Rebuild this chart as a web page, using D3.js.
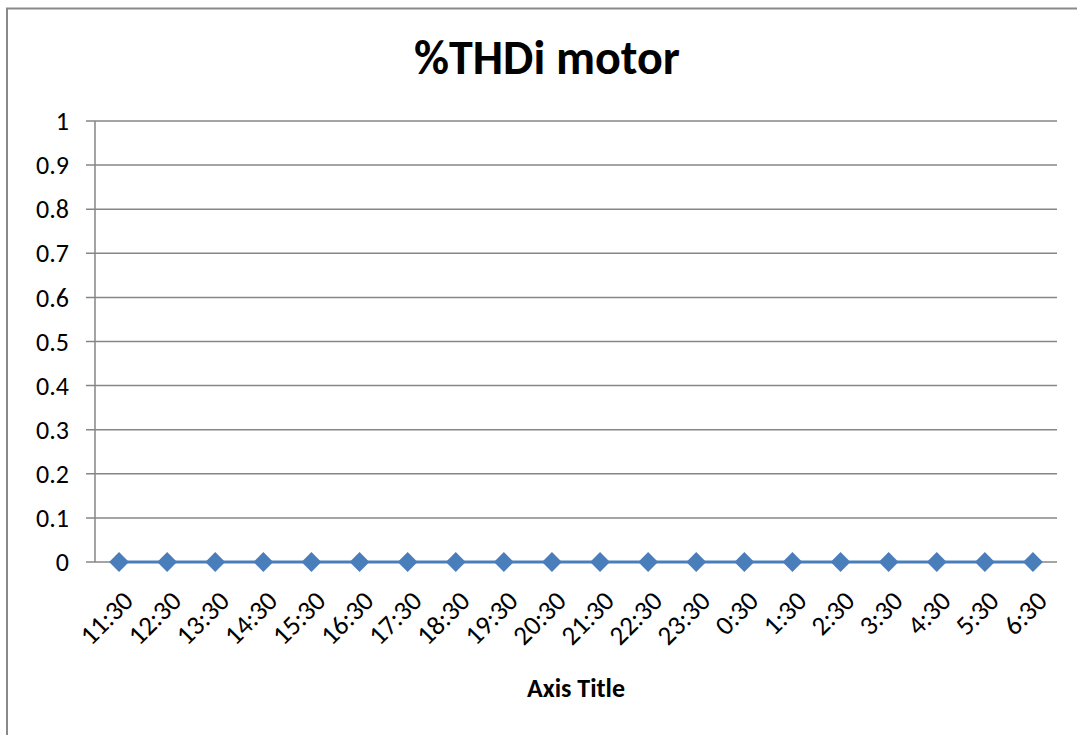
<!DOCTYPE html>
<html><head><meta charset="utf-8">
<script src="https://cdn.jsdelivr.net/npm/d3@7"></script>
<style>body{margin:0;background:#fff}svg{display:block}</style>
</head><body>
<script>
const categories = ["11:30","12:30","13:30","14:30","15:30","16:30","17:30","18:30","19:30","20:30","21:30","22:30","23:30","0:30","1:30","2:30","3:30","4:30","5:30","6:30"];
const values = [0,0,0,0,0,0,0,0,0,0,0,0,0,0,0,0,0,0,0,0];
const yTicks = [0,0.1,0.2,0.3,0.4,0.5,0.6,0.7,0.8,0.9,1];
const title = "%THDi motor";
const xTitle = "Axis Title";

const W = 1077, H = 735;
const svg = d3.select("body").append("svg").attr("width", W).attr("height", H);
const font = "Carlito, 'Liberation Sans', 'Noto Sans', sans-serif";

svg.append("rect").attr("x", 7).attr("y", 8.5).attr("width", W + 10).attr("height", H + 10)
  .attr("fill", "#fff").attr("stroke", "#898989").attr("stroke-width", 2);

const L = 95, R = 1057, T = 121, B = 562;
const x = d3.scaleBand().domain(categories).range([L, R]);
const y = d3.scaleLinear().domain([0, 1]).range([B, T]);

// gridlines
svg.append("g").selectAll("line").data(yTicks).join("line")
  .attr("x1", L - 9).attr("x2", R).attr("y1", d => y(d)).attr("y2", d => y(d))
  .attr("stroke", "#868686").attr("stroke-width", 1.5);
// y axis line
svg.append("line").attr("x1", L).attr("x2", L).attr("y1", T).attr("y2", B)
  .attr("stroke", "#868686").attr("stroke-width", 1.5);

// y labels
svg.append("g").selectAll("text").data(yTicks).join("text")
  .attr("x", 69).attr("y", d => y(d)).attr("dy", "0.35em").attr("text-anchor", "end")
  .attr("font-family", font).attr("font-size", 26).attr("fill", "#000").text(d => d3.format("")(d));

// x labels
svg.append("g").selectAll("text").data(categories).join("text")
  .attr("transform", d => `translate(${x(d) + x.bandwidth()/2 + 9},${596}) rotate(-45)`)
  .attr("text-anchor", "end").attr("dy", "0.35em")
  .attr("font-family", font).attr("font-size", 27).attr("fill", "#000").text(d => d);

// line
const line = d3.line().x((d, i) => x(categories[i]) + x.bandwidth()/2).y(d => y(d));
svg.append("path").datum(values).attr("d", line).attr("fill", "none")
  .attr("stroke", "#4a7ebb").attr("stroke-width", 3);
svg.append("g").selectAll("path").data(values).join("path")
  .attr("d", d3.symbol().type(d3.symbolDiamond2).size(250))
  .attr("transform", (d, i) => `translate(${x(categories[i]) + x.bandwidth()/2},${y(d)})`)
  .attr("fill", "#4a7ebb");

// titles
svg.append("text").attr("x", 547).attr("y", 74).attr("text-anchor", "middle")
  .attr("font-family", font).attr("font-weight", "bold").attr("font-size", 48).text(title);
svg.append("text").attr("x", 576).attr("y", 697).attr("text-anchor", "middle")
  .attr("font-family", font).attr("font-weight", "bold").attr("font-size", 26).text(xTitle);
</script>
</body></html>
